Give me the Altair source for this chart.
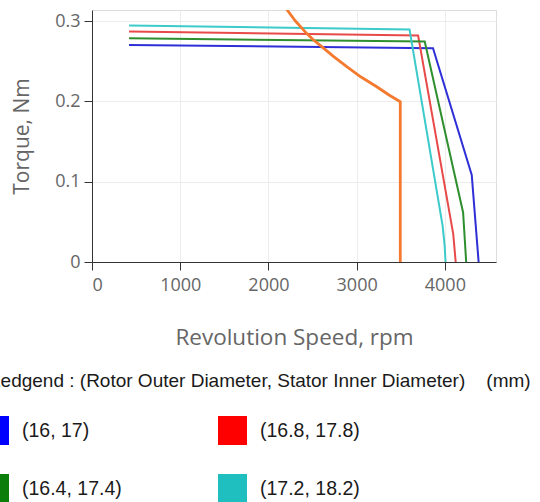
import altair as alt
import pandas as pd

# ---- data ----
series = ["(16, 17)", "(16.8, 17.8)", "(16.4, 17.4)", "(17.2, 18.2)"]
line_colors = ["#2f2fd8", "#e84a4a", "#2f8f2f", "#3ccaca"]
swatch_colors = ["#0000ff", "#ff0000", "#0a7d0a", "#1fbfbf"]

speed_16 = [420, 3866, 4305, 4383]
torque_16 = [0.2705, 0.2663, 0.1085, 0.0]
speed_168 = [420, 3697, 4095, 4123]
torque_168 = [0.2871, 0.2821, 0.035, 0.0]
speed_164 = [420, 3772, 4207, 4242]
torque_164 = [0.2788, 0.2747, 0.0617, 0.0]
speed_172 = [420, 3600, 3975, 3998, 4008]
torque_172 = [0.2947, 0.2896, 0.045, 0.02, 0.0]

load_speed = [2199, 2301, 2415, 2505, 2604, 2744, 2888, 3050, 3228, 3367, 3495, 3495]
load_torque = [0.3161, 0.3009, 0.2870, 0.2773, 0.2683, 0.2555, 0.2434, 0.2305,
               0.2184, 0.2081, 0.1997, 0.0]

x_ticks = [0, 1000, 2000, 3000, 4000]
y_ticks = [0, 0.1, 0.2, 0.3]
legend_title = "Ledgend : (Rotor Outer Diameter, Stator Inner Diameter)\u00a0\u00a0\u00a0\u00a0(mm)"

rows = []
for name, sp, tq in [(series[0], speed_16, torque_16),
                     (series[1], speed_168, torque_168),
                     (series[2], speed_164, torque_164),
                     (series[3], speed_172, torque_172)]:
    for i, (s, t) in enumerate(zip(sp, tq)):
        rows.append({"series": name, "speed": s, "torque": t, "order": i})
df = pd.DataFrame(rows)
load_df = pd.DataFrame({"speed": load_speed, "torque": load_torque,
                        "order": list(range(len(load_speed)))})

W, H = 404, 252
LEFT, TOP = 92, 10

xscale = alt.Scale(domain=[0, 4580], nice=False, zero=True)
yscale = alt.Scale(domain=[0, 0.314], nice=False, zero=True)

x_axis = alt.Axis(values=x_ticks, format="d", title="Revolution Speed, rpm", grid=True,
                  gridColor="#ececec", domainColor="#333", tickColor="#333",
                  tickSize=8, labelFont="Open Sans", labelFontSize=18,
                  labelColor="#666", labelPadding=6, titleFont="Open Sans",
                  titleFontSize=22.5, titleColor="#666", titleFontWeight="normal",
                  titleY=82, titleBaseline="alphabetic")
y_axis = alt.Axis(values=y_ticks, format=".1~f", title="Torque, Nm", grid=True,
                  gridColor="#ececec", domainColor="#333", tickColor="#333",
                  tickSize=8, labelFont="Open Sans", labelFontSize=18,
                  labelColor="#666", labelPadding=4, titleFont="Open Sans",
                  titleFontSize=21, titleColor="#666", titleFontWeight="normal",
                  titleX=-64, titleBaseline="alphabetic")

lines = alt.Chart(df).mark_line(strokeWidth=2, clip=True).encode(
    x=alt.X("speed:Q", scale=xscale, axis=x_axis),
    y=alt.Y("torque:Q", scale=yscale, axis=y_axis),
    color=alt.Color("series:N", scale=alt.Scale(domain=series, range=line_colors), legend=None),
    detail="series:N",
    order="order:Q",
)

load = alt.Chart(load_df).mark_line(strokeWidth=2.8, color="#f47a30", clip=True,
                                    strokeJoin="round").encode(
    x=alt.X("speed:Q", scale=xscale),
    y=alt.Y("torque:Q", scale=yscale),
    order="order:Q",
)

legend_layer = alt.Chart(df).transform_filter("false").mark_square(
    filled=True, size=841, opacity=1
).encode(
    x=alt.X("speed:Q", scale=xscale),
    y=alt.Y("torque:Q", scale=yscale),
    color=alt.Color("series:N", scale=alt.Scale(domain=series, range=swatch_colors),
                    legend=alt.Legend(
                        orient="none", legendX=-LEFT - 10, legendY=362,
                        direction="horizontal",
                        columns=2, padding=0, title=legend_title,
                        titleFont="Liberation Sans", titleFontSize=19,
                        titleFontWeight="normal", titleColor="#1a1a1a",
                        titleLimit=700, titlePadding=25,
                        labelFont="Liberation Sans", labelFontSize=19.5,
                        labelColor="#1a1a1a", labelOffset=13,
                        symbolType="square", symbolSize=841,
                        symbolStrokeWidth=0, symbolOffset=-10,
                        rowPadding=29, columnPadding=96, labelLimit=300)),
)

chart = alt.layer(lines, load, legend_layer).resolve_scale(
    color="independent"
).properties(
    width=W, height=H,
    padding={"left": LEFT, "top": TOP, "right": 540 - LEFT - W, "bottom": 502 - TOP - H},
    autosize=alt.AutoSizeParams(type="none"),
).configure_view(stroke=None).configure(background="white")

chart.save("out.html", embed_options={"renderer": "svg", "actions": False})
